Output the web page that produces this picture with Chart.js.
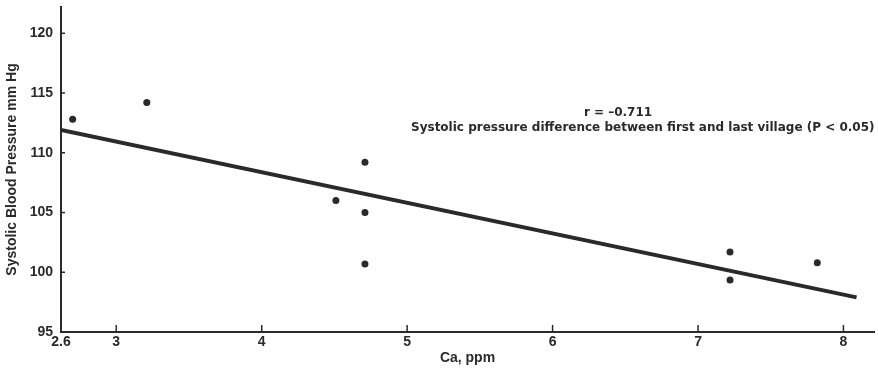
<!DOCTYPE html>
<html>
<head>
<meta charset="utf-8">
<script src="https://cdn.jsdelivr.net/npm/chart.js@4.4.1/dist/chart.umd.min.js"></script>
<style>
  html, body { margin: 0; padding: 0; background: #fff; }
  #graph { display: block; }
</style>
</head>
<body>
<canvas id="graph" width="878" height="384"></canvas>
<script>
// calcium (ppm) vs systolic pressure, one point per village
var caValues = [2.7, 3.21, 4.51, 4.71, 4.71, 4.71, 7.22, 7.22, 7.82];
var bpValues = [112.8, 114.2, 106.0, 109.2, 105.0, 100.7, 101.7, 99.35, 100.8];

// regression line end points
var fitX = [2.62, 8.09];
var fitY = [111.9, 97.9];

var xTicks = [2.62, 3, 4, 5, 6, 7, 8];
var yTicks = [95, 100, 105, 110, 115, 120];

var noteLines = ["r = \u20130.711", "Systolic pressure difference between first and last village (P < 0.05)"];

var ink = "#2a2a2a";
var sans = "'Liberation Sans', Arial, sans-serif";
var wide = "'DejaVu Sans', Verdana, sans-serif";

var points = caValues.map(function (x, i) { return { x: x, y: bpValues[i] }; });
var fit = fitX.map(function (x, i) { return { x: x, y: fitY[i] }; });

// small tick marks pointing into the plot, plus the r / P note
var extras = {
  id: "extras",
  afterDraw: function (chart) {
    var c = chart.ctx;
    var xs = chart.scales.x, ys = chart.scales.y;
    c.save();
    c.strokeStyle = ink;
    c.lineWidth = 1.5;
    xTicks.forEach(function (v) {
      if (v === xs.min) return;
      var px = xs.getPixelForValue(v);
      c.beginPath();
      c.moveTo(px, ys.bottom);
      c.lineTo(px, ys.bottom - 7);
      c.stroke();
    });
    yTicks.forEach(function (v) {
      if (v === ys.min) return;
      var py = ys.getPixelForValue(v);
      c.beginPath();
      c.moveTo(xs.left, py);
      c.lineTo(xs.left + 4, py);
      c.stroke();
    });
    c.fillStyle = ink;
    c.textAlign = "center";
    c.textBaseline = "middle";
    c.font = "bold 12px " + wide;
    c.fillText(noteLines[0], xs.getPixelForValue(6.45), ys.getPixelForValue(113.35));
    c.fillText(noteLines[1], xs.getPixelForValue(6.62), ys.getPixelForValue(112.1));
    c.restore();
  }
};

new Chart(document.getElementById("graph").getContext("2d"), {
  type: "scatter",
  data: {
    datasets: [
      {
        label: "Villages",
        data: points,
        pointRadius: 3.5,
        pointBackgroundColor: ink,
        pointBorderWidth: 0,
      },
      {
        label: "Fit",
        type: "line",
        data: fit,
        borderColor: ink,
        borderWidth: 4,
        pointRadius: 0,
        fill: false,
      },
    ],
  },
  options: {
    responsive: false,
    animation: false,
    layout: { padding: { top: 7, right: 0, bottom: 0, left: 0 } },
    plugins: { legend: { display: false }, tooltip: { enabled: false } },
    scales: {
      x: {
        type: "linear",
        min: 2.62,
        max: 8.21,
        afterBuildTicks: function (axis) {
          axis.ticks = xTicks.map(function (v) { return { value: v }; });
        },
        afterFit: function (axis) {
          axis.height = 52;
          axis.paddingLeft = 0;
          axis.paddingRight = 0;
        },
        grid: { display: false, drawTicks: false },
        border: { display: true, color: ink, width: 2 },
        ticks: {
          color: ink,
          padding: 2,
          font: { family: sans, size: 14, weight: "bold" },
          callback: function (v) { return String(Math.round(v * 10) / 10); },
        },
        title: {
          display: true,
          text: "Ca, ppm",
          color: ink,
          padding: { top: 2, bottom: 17 },
          font: { family: sans, size: 14, weight: "bold" },
        },
      },
      y: {
        type: "linear",
        min: 95,
        max: 122.2,
        afterBuildTicks: function (axis) {
          axis.ticks = yTicks.map(function (v) { return { value: v }; });
        },
        afterFit: function (axis) {
          axis.width = 61;
          axis.paddingTop = 0;
          axis.paddingBottom = 0;
        },
        grid: { display: false, drawTicks: false },
        border: { display: true, color: ink, width: 2 },
        ticks: {
          color: ink,
          padding: 8,
          font: { family: sans, size: 14, weight: "bold" },
        },
        title: {
          display: true,
          text: "Systolic Blood Pressure mm Hg",
          color: ink,
          padding: { top: 4, bottom: 0 },
          font: { family: sans, size: 14, weight: "bold" },
        },
      },
    },
  },
  plugins: [extras],
});
</script>
</body>
</html>
